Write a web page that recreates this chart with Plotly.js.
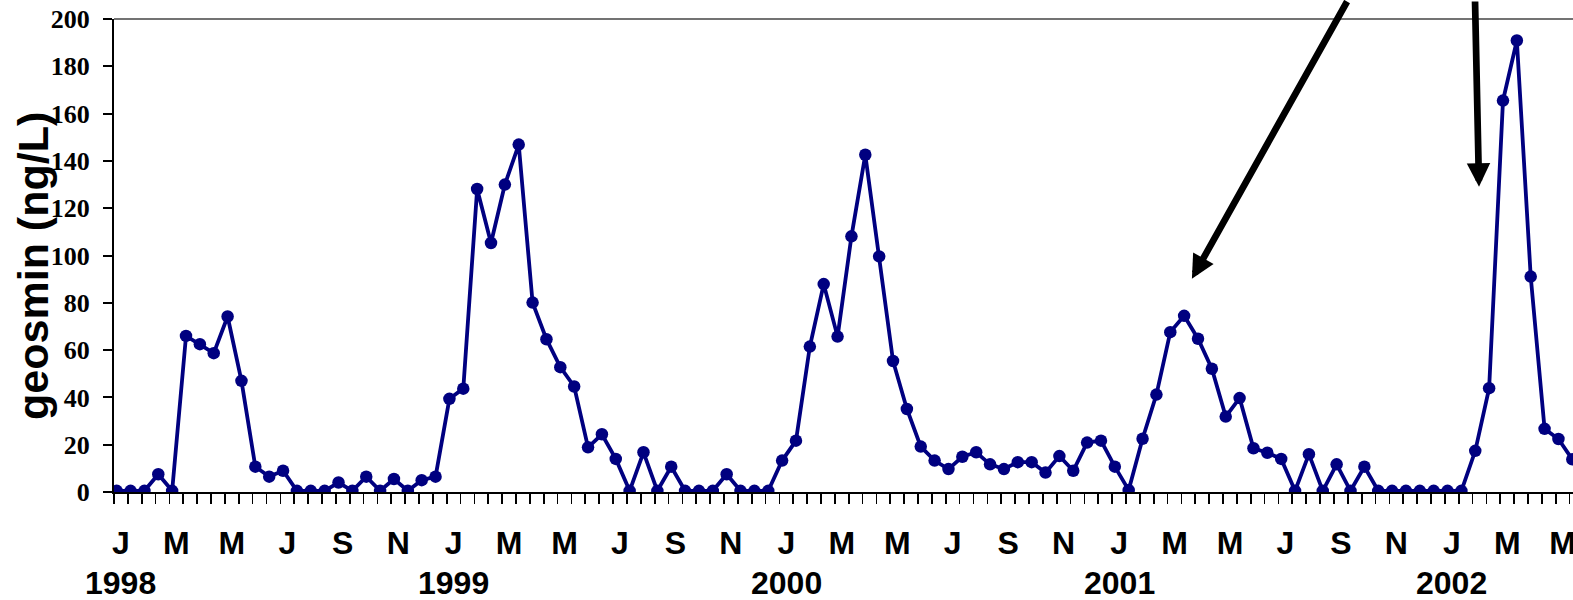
<!DOCTYPE html>
<html><head><meta charset="utf-8">
<script src="https://cdn.plot.ly/plotly-3.0.1.min.js"></script>
<style>html,body{margin:0;padding:0;background:#fff;overflow:hidden}</style>
</head><body><div id="chart" style="width:1573px;height:600px"></div>
<script>
// semi-monthly geosmin samples, Jan 1998 onward (ng/L)
const geosmin = [
  0.5, 0.5, 0.5, 7.5, 0.5, 66, 62.5, 58.7, 74.2, 47, 10.7, 6.5, 9, 0.5, 0.5, 0.5, 4, 0.5, 6.5, 0.5, 5.5, 0.5, 5, 6.5,
  39.4, 43.7, 128.1, 105.3, 130, 146.9, 80.1, 64.6, 52.8, 44.6, 18.9, 24.4, 14, 0.5, 16.8, 0.5, 10.7, 0.5, 0.5, 0.5, 7.5, 0.5, 0.5, 0.5,
  13.3, 21.7, 61.5, 87.9, 65.7, 108.1, 142.6, 99.6, 55.4, 35.1, 19.2, 13.3, 9.7, 14.9, 16.8, 11.7, 9.7, 12.6, 12.6, 8.2, 15.2, 9, 20.9, 21.7,
  10.7, 0.8, 22.5, 41.2, 67.6, 74.5, 64.8, 52.1, 31.9, 39.7, 18.5, 16.6, 14, 0.5, 16, 0.5, 11.7, 0.5, 10.7, 0.5, 0.5, 0.5, 0.5, 0.5,
  0.5, 0.5, 17.4, 43.9, 165.5, 190.9, 91.1, 26.7, 22.4, 13.8
];
const monthLabels = ['J', 'M', 'M', 'J', 'S', 'N'];
const years = ['1998', '1999', '2000', '2001', '2002'];
const yTicks = [0, 20, 40, 60, 80, 100, 120, 140, 160, 180, 200];

const pointOffset = 0.195;
const xs = geosmin.map((v, i) => i);
const tickvals = [], ticktext = [];
years.forEach((yr, yi) => monthLabels.forEach((m, mi) => {
  tickvals.push(yi * 24 + mi * 4 + 0.5 - pointOffset);
  ticktext.push(m);
}));

const labelFont = {family: 'Liberation Sans, Arial, sans-serif', size: 32, weight: 'bold', color: '#000'};

const yearAnnotations = years.map((yr, yi) => ({
  x: yi * 24 + 0.5 - pointOffset, xref: 'x', y: 0, yref: 'paper',
  yshift: -91, xanchor: 'center', yanchor: 'middle', showarrow: false,
  text: yr, font: labelFont
}));

const trace = {
  x: xs, y: geosmin, type: 'scatter', mode: 'lines+markers',
  line: {color: '#000080', width: 3.8},
  marker: {color: '#000080', size: 12.5},
  hoverinfo: 'skip'
};

const layout = {
  width: 1573, height: 600,
  margin: {l: 114, r: 0, t: 19, b: 108},
  paper_bgcolor: '#fff', plot_bgcolor: '#fff',
  showlegend: false,
  xaxis: {
    range: [-pointOffset, 105.05], autorange: false,
    showline: true, linewidth: 2, linecolor: '#000',
    showgrid: false, zeroline: false,
    tickmode: 'array', tickvals: tickvals, ticktext: ticktext,
    ticks: 'outside', ticklen: 10, tickcolor: 'rgba(0,0,0,0)',
    ticklabelstandoff: 12, ticklabeloverflow: 'allow',
    tickfont: labelFont,
    minor: {ticks: 'outside', tickmode: 'linear', tick0: -pointOffset, dtick: 1, ticklen: 10, tickwidth: 1.7, tickcolor: '#000', showgrid: false},
    automargin: false, fixedrange: true
  },
  yaxis: {
    range: [0, 200], autorange: false,
    showline: true, linewidth: 2, linecolor: '#000',
    showgrid: false, zeroline: false,
    tickmode: 'array', tickvals: yTicks,
    ticks: 'outside', ticklen: 9, tickwidth: 2, tickcolor: '#000',
    ticklabelstandoff: 8,
    tickfont: {family: 'Liberation Serif, Times New Roman, serif', size: 26, weight: 'bold', color: '#000'},
    automargin: false, fixedrange: true
  },
  shapes: [
    {type: 'line', xref: 'paper', yref: 'paper', x0: 0, x1: 1, y0: 1, y1: 1,
     line: {color: '#444', width: 1.3}}
  ],
  annotations: [
    {x: 77.56, y: 90.2, xref: 'x', yref: 'y', text: '', showarrow: true,
     ax: 156, ay: -289, axref: 'pixel', ayref: 'pixel',
     arrowhead: 2, arrowwidth: 6.7, arrowsize: 0.7, arrowcolor: '#000', standoff: 0},
    {x: 98.27, y: 129.1, xref: 'x', yref: 'y', text: '', showarrow: true,
     ax: -4, ay: -197, axref: 'pixel', ayref: 'pixel',
     arrowhead: 2, arrowwidth: 6.7, arrowsize: 0.7, arrowcolor: '#000', standoff: 0},
    {x: 0, y: 0.478, xref: 'paper', yref: 'paper', xshift: -81,
     xanchor: 'center', yanchor: 'middle', textangle: -90, showarrow: false,
     text: 'geosmin (ng/L)',
     font: {family: 'Liberation Sans, Arial, sans-serif', size: 43, weight: 'bold', color: '#000'}}
  ].concat(yearAnnotations)
};

Plotly.newPlot('chart', [trace], layout, {displayModeBar: false, staticPlot: true});
</script></body></html>
